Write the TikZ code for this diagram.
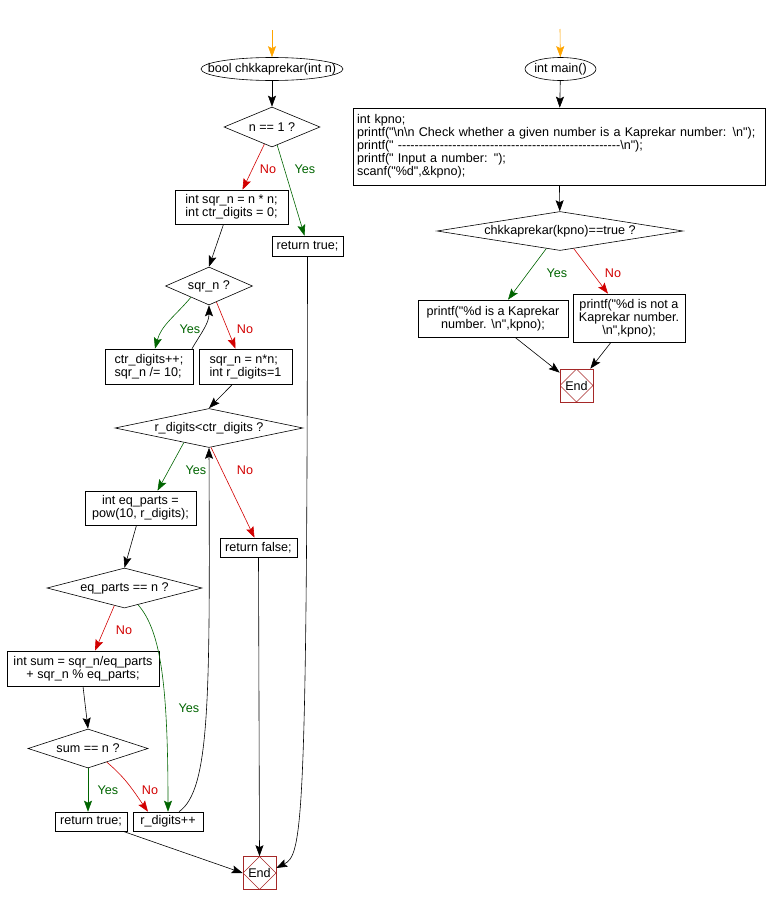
\documentclass[tikz,border=0pt]{standalone}
\usepackage{fontspec}
\newfontfamily\codefont{Liberation Sans}
\usetikzlibrary{arrows.meta,shapes.geometric}

\definecolor{yesgreen}{RGB}{0,100,0}
\definecolor{nored}{RGB}{210,0,0}
\definecolor{endred}{RGB}{165,40,40}
\definecolor{startorange}{RGB}{255,165,0}

\begin{document}
\begin{tikzpicture}[x=1pt,y=1pt,font=\codefont\fontsize{12.6}{13}\selectfont]
    \useasboundingbox (0,0) rectangle (769,-905);
    % Styles for the chart
    \tikzset{
        % connectors
        flow line/.style={draw=black, line width=0.6pt, -{Stealth[length=11pt,width=8pt,inset=2pt]}},
        yes line/.style={flow line, draw=yesgreen},
        no line/.style={flow line, draw=nored},
        start line/.style={flow line, draw=startorange},
        % branch labels
        yes text/.style={text=yesgreen, inner sep=0pt},
        no text/.style={text=nored, inner sep=0pt},
        % boxes
        code box/.style={draw, rectangle, line width=0.6pt, inner sep=2pt, align=center},
        func oval/.style={draw, ellipse, line width=0.6pt, inner sep=0pt, minimum height=23},
        % test diamond=width/height
        test diamond/.style 2 args={draw, diamond, line width=0.6pt, inner sep=0pt,
            minimum width=#1, minimum height=#2, aspect/.evaluated={#1/#2}},
        end mark/.style={draw=endred, rectangle, line width=0.6pt, minimum size=33, inner sep=0pt,
            path picture={\draw[endred, line width=0.5pt] (path picture bounding box.north)
                -- (path picture bounding box.east) -- (path picture bounding box.south)
                -- (path picture bounding box.west) -- cycle;}}
    }

    % chkkaprekar() column
    \coordinate (s1) at (272,-30);
    \node[func oval, minimum width=142] (f1) at (272,-69) {\makebox[0pt]{bool chkkaprekar(int n)}};
    \node[test diamond={96}{40}] (d1) at (272,-127) {n == 1 ?};
    \node[code box, minimum width=113, minimum height=34, align=left] (b1) at (231.5,-207) {int sqr\_n = n * n;\\int ctr\_digits = 0;};
    \node[code box, minimum width=71, minimum height=20] (r1) at (307.5,-246) {return true;};
    \node[test diamond={87}{38}] (d2) at (209,-286) {sqr\_n ?};
    \node[code box, minimum width=88, minimum height=35, align=left] (c1) at (149,-366.5) {ctr\_digits++;\\sqr\_n /= 10;};
    \node[code box, minimum width=93, minimum height=35, align=left] (c2) at (245.5,-366.5) {sqr\_n = n*n;\\int r\_digits=1};
    \node[test diamond={188}{39}] (d3) at (209,-428) {r\_digits<ctr\_digits ?};
    \node[code box, minimum width=111, minimum height=34] (e1) at (140.5,-508) {int eq\_parts =\\pow(10, r\_digits);};
    \node[code box, minimum width=77, minimum height=19] (rf) at (258.5,-547.5) {return false;};
    \node[test diamond={155}{40}] (d4) at (124.5,-588) {eq\_parts == n ?};
    \node[code box, minimum width=152, minimum height=35] (sb) at (83,-668.5) {int sum = sqr\_n/eq\_parts\\+ sqr\_n \% eq\_parts;};
    \node[test diamond={120}{39}] (d5) at (88,-748.5) {sum == n ?};
    \node[code box, minimum width=72, minimum height=19] (rt) at (91,-821.5) {return true;};
    \node[code box, minimum width=70, minimum height=19] (rd) at (168,-821.5) {r\_digits++};
    \node[end mark] (en1) at (259.5,-873) {End};

    % main() column
    \coordinate (s2) at (560,-29);
    \node[func oval, minimum width=71] (m1) at (560.5,-69) {\makebox[0pt]{int main()}};
    \node[code box, minimum width=412, minimum height=77, text width=404, align=left] (m2) at (559,-146.5)
        {int kpno;\\
         printf("\textbackslash n\textbackslash n Check whether a given number is a Kaprekar number: \textbackslash n");\\
         printf(" -----------------------------------------------------\textbackslash n");\\
         printf(" Input a number: ");\\
         scanf("\%d",\&kpno);};
    \node[test diamond={246}{39}] (m3) at (560,-231) {chkkaprekar(kpno)==true ?};
    \node[code box, minimum width=150, minimum height=37] (m4) at (493,-318.5) {printf("\%d is a Kaprekar\\number. \textbackslash n",kpno);};
    \node[code box, minimum width=112, minimum height=48] (m5) at (629,-318) {printf("\%d is not a\\Kaprekar number.\\\textbackslash n",kpno);};
    \node[end mark] (m6) at (576.5,-385.5) {End};

    % Branch labels
    \node[no text] (n1) at (268,-169) {No};
    \node[yes text] (y1) at (305,-169) {Yes};
    \node[yes text] (y2) at (190,-329) {Yes};
    \node[no text] (n2) at (245,-329) {No};
    \node[yes text] (y3) at (196,-470) {Yes};
    \node[no text] (n3) at (245,-470) {No};
    \node[no text] (n4) at (124,-630) {No};
    \node[yes text] (y4) at (189,-708) {Yes};
    \node[yes text] (y5) at (108,-790) {Yes};
    \node[no text] (n5) at (150,-790) {No};
    \node[yes text] (y6) at (557,-273) {Yes};
    \node[no text] (n6) at (613,-273) {No};

    % Edges of chkkaprekar()
    \draw[start line] (s1) -- (f1);
    \draw[flow line] (f1) -- (d1);
    \draw[no line] (d1.246) -- ([xshift=11]b1.north);
    \draw[yes line] (d1.286) -- ([xshift=-3]r1.north);
    \draw[flow line] ([xshift=-8]b1.south) -- (d2.north);
    \draw[yes line] (d2.212) to[out=230,in=75] ([xshift=6]c1.north);
    \draw[no line] (d2.295) -- ([xshift=-10]c2.north);
    \draw[flow line] ([xshift=43]c1.north) to[out=60,in=270] (d2.south);
    \draw[flow line] ([xshift=-13]c2.south) -- (d3.north);
    \draw[yes line] (d3.210) -- ([xshift=17]e1.north);
    \draw[no line] (d3.276) -- ([xshift=-4]rf.north);
    \draw[flow line] ([xshift=11]rd.north) .. controls (210,-790) and (210,-700) .. (d3.south);
    \draw[flow line] ([xshift=-4]e1.south) -- (d4.north);
    \draw[no line] (d4.240) -- ([xshift=12]sb.north);
    \draw[yes line] (d4.309) .. controls (160,-630) and (168,-680) .. (rd.north);
    \draw[flow line] (sb.south) -- (d5.north);
    \draw[yes line] (d5.south) -- (d5.south |- rt.north);
    \draw[no line] (d5.324) to[out=-40,in=125] ([xshift=-20]rd.north);
    \draw[flow line] ([xshift=32]rt.south) -- (en1.west);
    \draw[flow line] (rf.south) -- (en1.north);
    \draw[flow line] (r1.south) .. controls (307,-830) and (302,-855) .. ([yshift=5]en1.east);

    % Edges of main()
    \draw[start line] (s2) -- (m1);
    \draw[flow line] (m1) -- (m2);
    \draw[flow line] (m2) -- (m3);
    \draw[yes line] (m3.232) -- ([xshift=15]m4.north);
    \draw[no line] (m3.308) -- ([xshift=-21]m5.north);
    \draw[flow line] ([xshift=22]m4.south) -- ([yshift=-4]m6.north west);
    \draw[flow line] ([xshift=-18]m5.south) -- ([xshift=-3]m6.north east);
\end{tikzpicture}
\end{document}
